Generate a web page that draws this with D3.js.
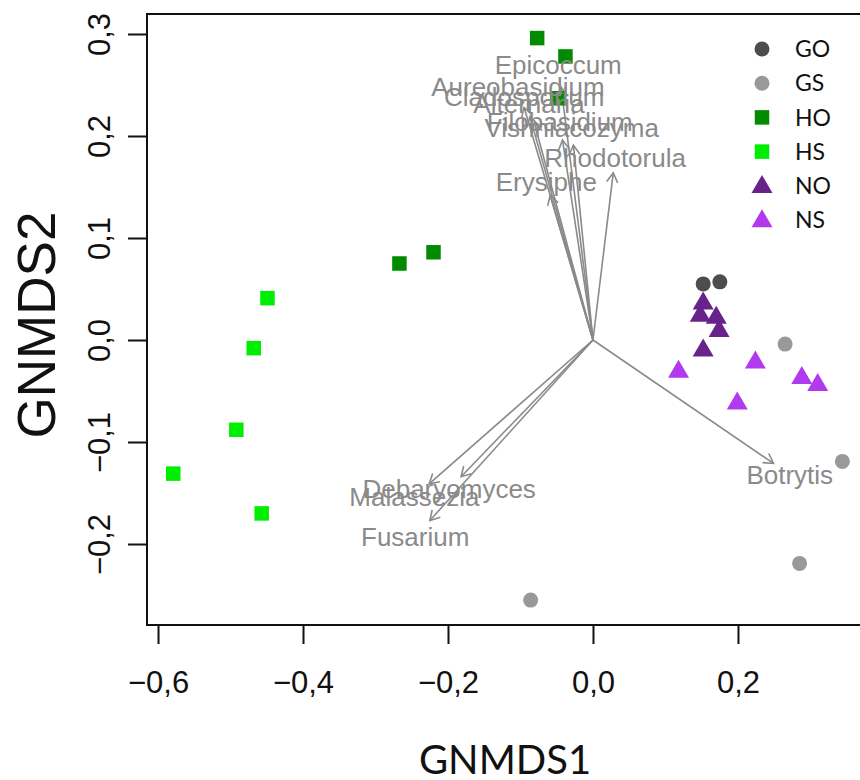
<!DOCTYPE html>
<html>
<head>
<meta charset="utf-8">
<script src="https://cdn.jsdelivr.net/npm/d3@7"></script>
<style>
  html, body { margin: 0; padding: 0; background: #fff; }
  svg { display: block; }
</style>
</head>
<body>
<svg id="chart" width="860" height="780"></svg>
<script>
// Sample scores on the two GNMDS axes, one array per group
const groups = ["GO", "GS", "HO", "HS", "NO", "NS"];
const GO = [[0.152, 0.055], [0.175, 0.057]];
const GS = [[0.265, -0.004], [0.344, -0.119], [0.285, -0.219], [-0.086, -0.255]];
const HO = [[-0.077, 0.296], [-0.038, 0.278], [-0.049, 0.237], [-0.267, 0.075], [-0.220, 0.086]];
const HS = [[-0.449, 0.041], [-0.468, -0.008], [-0.492, -0.088], [-0.579, -0.131], [-0.457, -0.170]];
const NO = [[0.152, 0.037], [0.148, 0.025], [0.170, 0.023], [0.174, 0.010], [0.152, -0.009]];
const NS = [[0.118, -0.030], [0.224, -0.021], [0.199, -0.061], [0.288, -0.036], [0.310, -0.043]];

// Fitted genus vectors (arrow tips)
const genera = ["Epicoccum", "Aureobasidium", "Cladosporium", "Alternaria", "Filobasidium",
  "Vishniacozyma", "Rhodotorula", "Erysiphe", "Debaryomyces", "Malassezia", "Fusarium", "Botrytis"];
const vecX = [-0.044, -0.095, -0.087, -0.081, -0.042, -0.027, 0.028, -0.059, -0.182, -0.226, -0.225, 0.249];
const vecY = [0.248, 0.228, 0.219, 0.213, 0.196, 0.191, 0.164, 0.142, -0.134, -0.141, -0.177, -0.121];

const xTicks = [-0.6, -0.4, -0.2, 0.0, 0.2];
const yTicks = [-0.2, -0.1, 0.0, 0.1, 0.2, 0.3];

const groupData = { GO, GS, HO, HS, NO, NS };
const groupColor = { GO: "#4d4d4d", GS: "#999999", HO: "#008b00", HS: "#00ee00", NO: "#68228b", NS: "#b23aee" };
const groupShape = { GO: "circle", GS: "circle", HO: "square", HS: "square", NO: "triangle", NS: "triangle" };

const svg = d3.select("#chart");
const box = { left: 147, right: 866, top: 14, bottom: 625 };

const x = d3.scaleLinear().domain([-0.6152, 0.3766]).range([box.left, box.right]);
const y = d3.scaleLinear().domain([-0.2794, 0.3196]).range([box.bottom, box.top]);

const locale = d3.formatLocale({ decimal: ",", thousands: ".", grouping: [3], currency: ["", ""], minus: "\u2212" });
const fmt = locale.format(".1f");

// Axes
const xAxis = svg.append("g")
  .attr("transform", `translate(0,${box.bottom})`)
  .call(d3.axisBottom(x).tickValues(xTicks).tickFormat(fmt).tickSize(19).tickPadding(27));
const yAxis = svg.append("g")
  .attr("transform", `translate(${box.left},0)`)
  .call(d3.axisLeft(y).tickValues(yTicks).tickFormat(fmt).tickSize(19).tickPadding(0));

[xAxis, yAxis].forEach(g => {
  g.select(".domain").remove();
  g.selectAll(".tick line").attr("stroke", "#111").attr("stroke-width", 2);
  g.selectAll(".tick text")
    .attr("fill", "#111")
    .style("font-family", "'Liberation Sans', Arial, sans-serif")
    .style("font-size", "31px");
});

// y tick labels run parallel to the axis
yAxis.selectAll(".tick text")
  .attr("x", null).attr("dy", null)
  .attr("text-anchor", "middle")
  .attr("transform", "translate(-36,0) rotate(-90)")
  .attr("dy", "-0.02em");

// Plot frame
svg.append("rect")
  .attr("x", box.left).attr("y", box.top)
  .attr("width", box.right - box.left).attr("height", box.bottom - box.top)
  .attr("fill", "none").attr("stroke", "#111").attr("stroke-width", 2);

// Axis titles
svg.append("text")
  .attr("x", 505).attr("y", 774)
  .attr("text-anchor", "middle")
  .style("font-family", "Lato, 'Open Sans', sans-serif")
  .style("font-size", "40px")
  .attr("fill", "#111")
  .text("GNMDS1");

svg.append("text")
  .attr("transform", `translate(55,325) rotate(-90)`)
  .attr("text-anchor", "middle")
  .style("font-family", "'Liberation Sans', Arial, sans-serif")
  .style("font-size", "53px")
  .attr("fill", "#111")
  .text("GNMDS2");

// Symbol drawing
function drawSymbol(g, shape, cx, cy, color) {
  if (shape === "circle") {
    g.append("circle").attr("cx", cx).attr("cy", cy).attr("r", 7.5).attr("fill", color);
  } else if (shape === "square") {
    const s = 14.5;
    g.append("rect").attr("x", cx - s / 2).attr("y", cy - s / 2).attr("width", s).attr("height", s).attr("fill", color);
  } else {
    const h = 18, w = 21;
    g.append("path")
      .attr("d", `M${cx},${cy - h * 0.6}L${cx + w / 2},${cy + h * 0.4}L${cx - w / 2},${cy + h * 0.4}Z`)
      .attr("fill", color);
  }
}

// Genus vectors
const arrowColor = "#8a8a8a";
const vg = svg.append("g");
const ox = x(0), oy = y(0);
genera.forEach((name, i) => {
  const tx = x(vecX[i]), ty = y(vecY[i]);
  vg.append("line").attr("x1", ox).attr("y1", oy).attr("x2", tx).attr("y2", ty)
    .attr("stroke", arrowColor).attr("stroke-width", 1.6);
  const ang = Math.atan2(ty - oy, tx - ox);
  const len = 11, spread = Math.PI / 6;
  const p1 = [tx - len * Math.cos(ang - spread), ty - len * Math.sin(ang - spread)];
  const p2 = [tx - len * Math.cos(ang + spread), ty - len * Math.sin(ang + spread)];
  vg.append("path").attr("d", `M${p1}L${tx},${ty}L${p2}`)
    .attr("fill", "none").attr("stroke", arrowColor).attr("stroke-width", 1.6);
});

// Samples
const pg = svg.append("g");
groups.forEach(gname => {
  groupData[gname].forEach(([vx, vy]) => drawSymbol(pg, groupShape[gname], x(vx), y(vy), groupColor[gname]));
});

// Genus labels, placed just beyond each arrow tip
const lg = svg.append("g");
genera.forEach((name, i) => {
  lg.append("text")
    .attr("x", x(vecX[i] * 1.09)).attr("y", y(vecY[i] * 1.09))
    .attr("text-anchor", "middle").attr("dy", "0.36em")
    .style("font-family", "'Liberation Sans', Arial, sans-serif")
    .style("font-size", "26px")
    .attr("fill", arrowColor)
    .text(name);
});

// Legend
const leg = svg.append("g");
groups.forEach((gname, i) => {
  const cy = 49 + i * 34.2;
  drawSymbol(leg, groupShape[gname], 762, cy, groupColor[gname]);
  leg.append("text").attr("x", 795).attr("y", cy).attr("dy", "0.36em")
    .style("font-family", "Lato, 'Open Sans', sans-serif")
    .style("font-size", "23px")
    .attr("fill", "#111")
    .text(gname);
});
</script>
</body>
</html>
